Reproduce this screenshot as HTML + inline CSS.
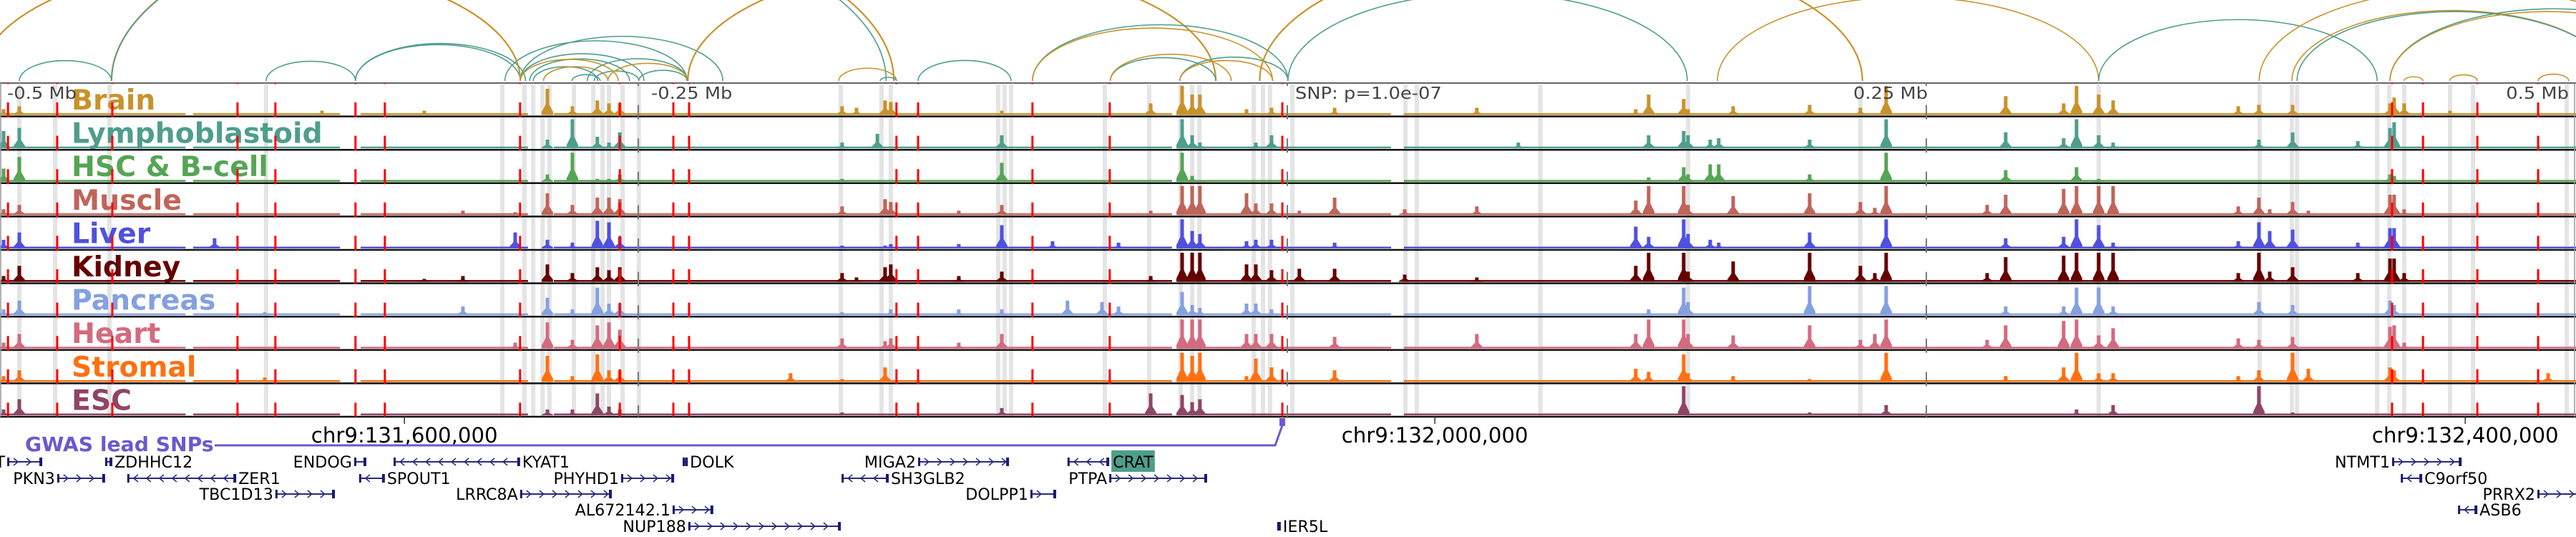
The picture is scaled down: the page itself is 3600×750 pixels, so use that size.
<!DOCTYPE html>
<html><head><meta charset="utf-8"><style>
html,body{margin:0;padding:0;background:#fff;width:3600px;height:750px;overflow:hidden}
svg{display:block}
.tl{font-family:"DejaVu Sans Condensed","DejaVu Sans","Liberation Sans",sans-serif;font-weight:bold;font-size:39px}
.ax{font-family:"DejaVu Sans","Liberation Sans",sans-serif;font-size:23px;fill:#444}
.gn{font-family:"DejaVu Sans Condensed","DejaVu Sans","Liberation Sans",sans-serif;font-size:22px;fill:#000}
.co{font-family:"DejaVu Sans Condensed","DejaVu Sans","Liberation Sans",sans-serif;font-size:29px;fill:#000}
</style></head><body>
<svg id="chart" width="3600" height="750" viewBox="0 0 3600 750" xmlns="http://www.w3.org/2000/svg"></svg>
<script>
// ---- data (positions in kb from window start chr9:131,443,000) ----
const peakPos=[1.4,7.5,83.3,102.8,125,164.7,179.7,200,212.5,222.2,231.9,236.4,240.6,306.9,326.9,332.5,340.6,343.6,345.8,372.2,388.9,408.6,414.4,427.8,434.2,446.7,458.9,462.8,465.8,483.9,487.5,493.6,504.4,518.1,545.3,573.3,589.4,635,640,653.6,655.3,663.9,667.2,672.8,702.5,722.2,727.8,732.2,771.4,778.6,801.1,806.1,814.7,820.3,868.9,876.9,881.1,890,896.1,915.3,927.8,929.4,933.3,951.1,989.2];
const brain=[.2,.3,0,0,.15,.15,0,0,.9,.3,.5,.4,.4,0,.3,.25,0,.5,.45,0,.15,0,0,0,0,.4,1,.7,.7,.2,0,.25,0,.25,0,.25,0,.2,.7,.55,.2,0,0,.3,.35,.25,0,1,0,.65,.4,1,.7,.5,.3,.35,0,.35,0,0,.4,.6,.4,.15,0];
const lympho=[.6,.7,0,0,0,0,0,0,.3,1,.4,.2,.55,0,.2,0,.5,0,0,0,.45,0,0,0,0,0,1,.45,.2,0,.2,.45,0,0,0,0,.2,0,.45,.6,.45,.3,.35,0,.3,0,0,1,0,.55,.35,1,.45,.2,0,.3,0,.55,0,.25,.7,.9,0,0,0];
const hsc=[.45,.85,0,0,0,0,0,0,.25,1,.1,.1,.25,0,.1,0,0,0,0,0,.65,0,0,0,0,0,1,.2,.05,0,0,0,0,0,0,0,0,0,.15,.5,.25,.6,.6,0,.25,0,0,1,0,.4,0,.5,.1,0,0,0,0,0,0,0,.25,.2,0,0,0];
const muscle=[.2,.35,0,0,0,0,.15,.1,.75,.35,.6,.6,.55,0,.3,0,0,.55,.45,.15,.35,0,0,0,0,.15,1,1,1,.75,.4,.4,.15,.6,.2,.3,0,.5,1,1,.35,0,0,.65,.75,.45,.25,1,.35,.7,.9,1,1,1,.3,.6,.2,.45,.15,0,.7,.7,.2,0,0];
const liver=[.3,.55,.35,0,0,0,0,.55,.3,.2,.95,.9,.4,0,.1,0,0,.1,.15,.15,.8,.25,0,0,.2,0,1,.6,.5,.25,.3,.3,0,.2,0,0,0,.75,.4,1,.5,.3,.2,0,.55,0,0,1,0,.35,.4,1,.8,.2,.25,.9,.6,.65,0,.2,.7,.7,0,0,0];
const kidney=[.2,.55,0,0,0,.1,.2,0,.6,.3,.5,.4,.5,0,.3,.15,0,.5,.6,.2,.35,0,0,0,0,.2,1,1,1,.6,.6,.4,.45,.45,.25,.15,0,.55,1,1,.35,0,0,.7,1,.55,.3,1,.3,.85,.9,1,1,1,.3,1,.35,.5,0,.3,.8,.8,.3,0,0];
const pancreas=[.2,.5,0,.1,0,0,.3,0,.6,.2,.95,.4,.4,0,.1,0,0,0,.2,.2,.2,0,.5,.45,.3,0,.8,.35,.25,.4,.4,.2,0,0,0,0,0,0,.2,.95,.45,0,0,0,1,0,0,1,0,.3,.3,.95,.95,.3,0,.45,0,.35,0,0,.5,.35,0,0,0];
const heart=[.2,.5,0,0,0,0,0,.2,.9,.3,.8,.9,.65,0,.35,0,0,.25,.35,.2,.5,0,0,0,0,0,1,1,1,.5,.5,.5,0,.4,0,.5,0,.5,1,1,.5,0,0,.45,.8,.3,.5,1,.3,.8,.95,1,.45,.7,.35,.3,0,.4,0,0,.75,.8,.2,0,0];
const stromal=[.2,.4,0,.15,0,0,0,0,.9,.2,.95,.4,.4,.3,.1,0,0,.5,0,0,0,0,0,0,0,0,1,.9,1,.2,.8,.5,0,.4,0,0,0,.45,.35,.95,.3,0,0,.2,.1,0,0,1,0,.2,.5,1,.3,.3,.2,.4,0,1,.45,0,.5,.4,0,0,.3];
const esc=[.2,.55,0,0,0,0,0,0,.2,.2,.75,.3,.2,0,.1,0,0,0,0,0,.25,0,0,0,0,.75,.7,.45,.55,0,0,0,0,0,0,0,0,0,0,1,0,0,0,0,.1,0,0,.35,0,0,0,.2,0,.35,0,1,0,.1,0,0,0,0,0,0,0];
const trackNames=["Brain","Lymphoblastoid","HSC & B-cell","Muscle","Liver","Kidney","Pancreas","Heart","Stromal","ESC"];
const trackColors=["#c8922a","#4e9e8c","#55a555","#c0645a","#5050e0","#650000","#85a0e0","#d46a7e","#ff7010","#8f4565"];
const trackValues=[brain,lympho,hsc,muscle,liver,kidney,pancreas,heart,stromal,esc];
const bgIntervals=[[0,72],[75,132],[140,205],[215,455],[458,540],[545,1000]];
const redSnps=[3.1,22.2,43.6,92.2,106.9,138,149.4,201.9,240.6,261.4,267.5,348,356.4,400.8,430.8,497.8,928.6,940.6,961.7,985.3];
const grayCols=[7.5,21.4,42.5,103.3,195,203.6,207,210.6,213.3,222.8,230.3,233.9,236.4,241.7,248,326.4,342.2,345.8,387.5,390,392.5,428.9,446.1,458.3,462.8,465.6,486.7,490.3,493,501.7,545.6,550,598,655.3,722.2,814.7,877.2,889.7,891.7,922.8,927.5,933.3,951.1,960,996.4];
const arcStart=[7.5,103.3,138,138,196,202,205.6,207,211,222,230.6,248,202,43.3,43.3,-8.3,267,228,236,325.6,341.7,356.4,400.8,400.8,431,431,458,500,489,666.7,814.7,877,889.7,891.7,927.8,927.8,933.3,951,985.3,458,202];
const arcEnd=[43.3,138,202,204,266.7,250,244.4,232,236,233,248,266.7,280.6,347,344,202,472,267,267,348,348,392.5,500,494,472,478,500,655,723,814.7,922.8,1040,1014,1014,1055,1050,940.6,961.7,997.2,494,240];
const arcType=["t","t","t","t","t","t","t","t","g","t","t","t","t","g","t","g","g","t","g","g","t","t","t","g","t","g","t","t","g","g","t","g","g","t","t","g","g","g","g","g","g"];
const axisTicks=[-250,0,250];
const axisLabels=["-0.5 Mb","-0.25 Mb","SNP: p=1.0e-07","0.25 Mb","0.5 Mb"];
const coordPos=[157,557,957];
const coordLabels=["chr9:131,600,000","chr9:132,000,000","chr9:132,400,000"];
const snpPos=497.8;
const geneNames=["T","ZDHHC12","ENDOG","KYAT1","DOLK","MIGA2","CRAT","NTMT1","PKN3","ZER1","SPOUT1","PHYHD1","SH3GLB2","PTPA","C9orf50","TBC1D13","LRRC8A","DOLPP1","PRRX2","AL672142.1","ASB6","NUP188","IER5L"];
const geneStart=[2.8,40.8,137.5,152.8,265,356.4,414.4,928.6,22.2,49.4,139.4,241.1,326.7,430.6,932,106.9,201.9,400,985,261.1,954.2,267.2,495.8];
const geneEnd=[16.4,43.6,142.2,201.9,267,391.7,430.6,955.6,40.8,91.7,149.4,261.7,345,468.6,940.3,130,237.5,410,1003,276.9,961.7,326.4,497.2];
const geneStrand=[1,-1,1,-1,-1,1,-1,1,1,-1,-1,1,-1,1,-1,1,1,1,1,1,-1,1,1];
const geneRow=[0,0,0,0,0,0,0,0,1,1,1,1,1,1,1,2,2,2,2,3,3,4,4];
const geneLabelSide=["L","R","L","R","R","L","R","L","L","R","R","L","R","L","R","L","L","L","L","L","R","L","R"];

// ---- scales / layout ----
const PX=3.6;
const x=kb=>kb*PX;
const panelTop=116, trackH=46.6, nT=10;
const panelBot=panelTop+trackH*nT;
const svg=document.getElementById('chart');
const NS='http://www.w3.org/2000/svg';
function mk(tag,attrs,parent){const e=document.createElementNS(NS,tag);for(const k in attrs)e.setAttribute(k,attrs[k]);(parent||svg).appendChild(e);return e;}
function stretch(t,k){const w=t.getComputedTextLength();if(w>0){t.setAttribute('textLength',(w*k).toFixed(1));t.setAttribute('lengthAdjust','spacingAndGlyphs');}return w*k;}

// arcs
const arcG=mk('g',{});


const clip=mk('clipPath',{id:'arcclip'});mk('rect',{x:0,y:0,width:3600,height:114},clip);
arcG.setAttribute('clip-path','url(#arcclip)');
const arcBase=113;
for(let i=0;i<arcStart.length;i++){
  const x1=x(arcStart[i]),x2=x(arcEnd[i]);const rx=(x2-x1)/2, ry=(x2-x1)*0.22;
  const p=mk('path',{d:`M${x1},${arcBase} A${rx},${ry} 0 0 1 ${x2},${arcBase}`,fill:'none',stroke:arcType[i]==='t'?'#4e9e8c':'#c8922a','stroke-width':arcType[i]==='g'&&arcEnd[i]-arcStart[i]>200?2.2:1.6},arcG);
  
  
}

// gray columns
const gcG=mk('g',{});


grayCols.forEach(k=>{const r=mk('rect',{x:x(k)-3,y:panelTop+2,width:6,height:panelBot-panelTop-2,fill:'#e4e4e4'},gcG);
  
  });

// tracks
for(let t=0;t<nT;t++){
  const top=panelTop+t*trackH, base=top+trackH-2, hmax=trackH-6;
  const g=mk('g',{});
  
  
  const col=trackColors[t];
  bgIntervals.forEach(iv=>{const r=mk('rect',{x:x(iv[0]),y:base-2.5,width:x(iv[1])-x(iv[0]),height:2.5,fill:col},g);
    
    });
  const vals=trackValues[t];
  for(let i=0;i<peakPos.length;i++){
    const v=vals[i]; if(!v) continue;
    const h=v*hmax, cx=x(peakPos[i]);
    const p=mk('path',{d:`M${cx-8},${base} L${cx-8},${base-h*0.12} L${cx-2.5},${base-h*0.4} L${cx-2.5},${base-h} L${cx+2.5},${base-h} L${cx+2.5},${base-h*0.4} L${cx+8},${base-h*0.12} L${cx+8},${base} Z`,fill:col},g);
    
    
  }
  const ln=mk('line',{x1:0,x2:3600,y1:top+trackH,y2:top+trackH,stroke:'#111','stroke-width':2.5},g);
  
  
  const lb=mk('text',{x:100,y:top+37,class:'tl',fill:col},g);lb.textContent=trackNames[t];
  
  
  stretch(lb,1.12);
}
// panel frame
const fr=mk('line',{x1:0,x2:3600,y1:panelTop,y2:panelTop,stroke:'#333','stroke-width':1.5});


const fl=mk('line',{x1:1,x2:1,y1:panelTop,y2:panelBot,stroke:'#999','stroke-width':1.5});


const frr=mk('line',{x1:3598,x2:3598,y1:panelTop,y2:panelBot,stroke:'#999','stroke-width':1.5});



// axis dashed gray lines
axisTicks.forEach(d=>{const px=x(snpPos+d)+(d===0?7:0);const l=mk('line',{x1:px,x2:px,y1:panelTop,y2:panelBot,stroke:'#777','stroke-width':2,'stroke-dasharray':'20 26.6','stroke-dashoffset':'16'});
  
  });
// red snp lines
redSnps.forEach(k=>{const l=mk('line',{x1:x(k),x2:x(k),y1:panelTop,y2:panelBot,stroke:'#f00','stroke-width':3,'stroke-dasharray':'21 25.6','stroke-dashoffset':'19.6'});
  
  });
// axis labels
const axX=[10,910,1810,2590,3590];
axisLabels.forEach((s,i)=>{const t=mk('text',{x:axX[i],y:138,class:'ax','text-anchor':i===4?'end':'start'});t.textContent=s;
  
  
  stretch(t,1.12);});

// coordinate ruler
coordPos.forEach((k,i)=>{const l=mk('line',{x1:x(k),x2:x(k),y1:panelBot,y2:panelBot+10,stroke:'#333','stroke-width':1.5});
  
  
  const t=mk('text',{x:x(k),y:618,class:'co','text-anchor':'middle'});t.textContent=coordLabels[i];
  
  
  stretch(t,1.12);});

// GWAS
const gw=mk('text',{x:35,y:630,fill:'#6a5acd','font-family':'"DejaVu Sans Condensed","DejaVu Sans",sans-serif','font-weight':'bold','font-size':'28px'});gw.textContent='GWAS lead SNPs';


stretch(gw,1.12);
const sx=x(snpPos);
const gl=mk('path',{d:`M300,622 L${sx-10},622 L${sx},594`,fill:'none',stroke:'#6a5acd','stroke-width':3});


const gs=mk('rect',{x:sx-4,y:584,width:8,height:11,fill:'#6a5acd'});



// genes
const rowY=[645,668,690,712,735];
for(let i=0;i<geneNames.length;i++){
  const g=mk('g',{});
  
  
  const y=rowY[geneRow[i]], a=x(geneStart[i]), b=x(geneEnd[i]);
  mk('line',{x1:a,x2:b,y1:y,y2:y,stroke:'#2a2a80','stroke-width':2},g);
  const s=geneStrand[i];
  for(let c=a+12;c<b-6;c+=18){mk('polyline',{points:`${c-3*s},${y-5} ${c+3*s},${y} ${c-3*s},${y+5}`,fill:'none',stroke:'#2a2a80','stroke-width':1.5},g);}
  mk('rect',{x:a,y:y-6,width:3,height:12,fill:'#1a1a70'},g);
  mk('rect',{x:b-4,y:y-6,width:4,height:12,fill:'#1a1a70'},g);
  const left=geneLabelSide[i]==='L';
  const tx=left?a-3:b+3;
  const isC=geneNames[i]==='CRAT';
  const box=isC?mk('rect',{x:tx,y:y-16,width:60,height:30,fill:'#4e9e8c'},g):null;
  const t=mk('text',{x:tx+(isC?2:0),y:y+8,class:'gn','text-anchor':left?'end':'start',fill:isC?'#fff':'#000'},g);
  t.textContent=geneNames[i];
  const w=stretch(t,1.12);
  if(box){box.setAttribute('width',(w+4).toFixed(1));}
}
</script>
</body></html>
